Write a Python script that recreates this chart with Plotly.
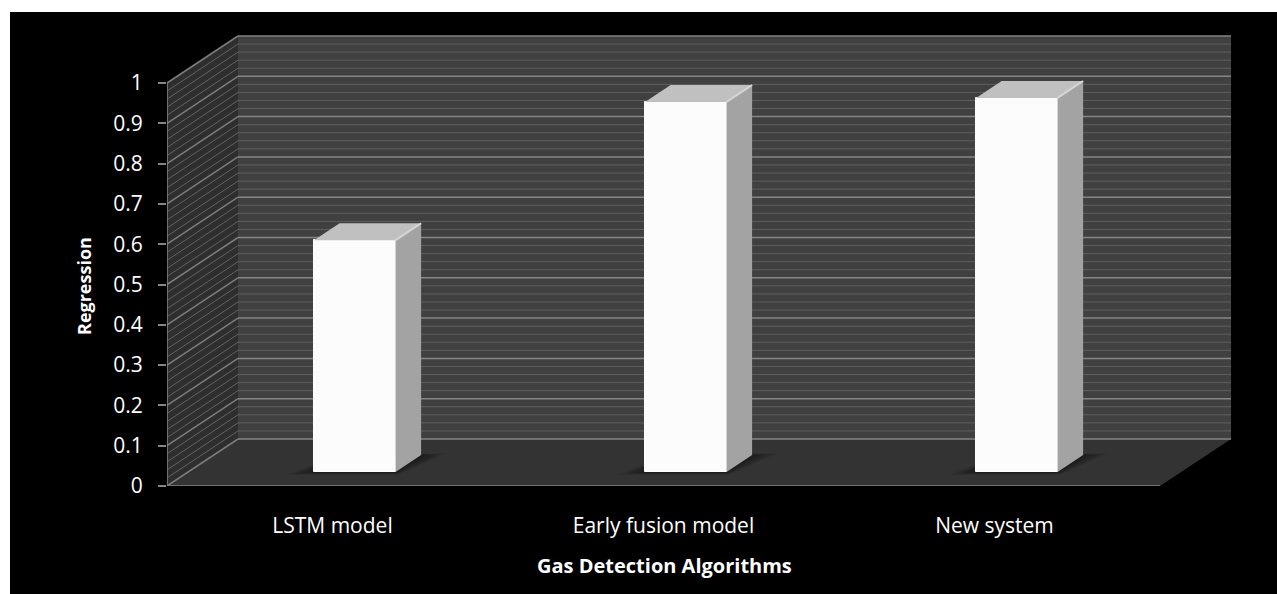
import plotly.graph_objects as go

# Chart data
categories = ["LSTM model", "Early fusion model", "New system"]
regression = [0.575, 0.918, 0.928]
y_ticks = [0, 0.1, 0.2, 0.3, 0.4, 0.5, 0.6, 0.7, 0.8, 0.9, 1]
y_tick_text = ["0", "0.1", "0.2", "0.3", "0.4", "0.5", "0.6", "0.7", "0.8", "0.9", "1"]
x_title = "Gas Detection Algorithms"
y_title = "Regression"

WIDTH, HEIGHT = 1277, 594

# Pixel frame of the plot area and the size of one data unit
LEFT, RIGHT, TOP, BOTTOM = 167, 1232, 35, 486
PX_PER_CAT = 331
PX_PER_VAL = 403
X_RANGE = [-0.5, -0.5 + (RIGHT - LEFT) / PX_PER_CAT]
Y_RANGE = [0, (BOTTOM - TOP) / PX_PER_VAL]

# Oblique projection: depth 0 is the front of the floor, depth 1 the back wall
DX = 71 / PX_PER_CAT
DY = 47 / PX_PER_VAL
X_MIN, X_MAX = -0.5, 2.5

BAR_WIDTH = 81.5 / PX_PER_CAT
BAR_SHIFT = 1 / PX_PER_CAT
BAR_D0, BAR_D1 = 0.30, 0.66


def project(x, v, d):
    return x + d * DX, v + d * DY


def poly(points, color, xaxis="x", yaxis="y"):
    xs, ys = zip(*[project(*p) for p in points + points[:1]])
    return go.Scatter(
        x=xs, y=ys, xaxis=xaxis, yaxis=yaxis, mode="lines", line=dict(width=0),
        fill="toself", fillcolor=color, hoverinfo="skip", showlegend=False,
    )


def segments(pairs, color, width, xaxis="x", yaxis="y"):
    xs, ys = [], []
    for a, b in pairs:
        ax, ay = project(*a)
        bx, by = project(*b)
        xs += [ax, bx, None]
        ys += [ay, by, None]
    return go.Scatter(
        x=xs, y=ys, xaxis=xaxis, yaxis=yaxis, mode="lines",
        line=dict(color=color, width=width), hoverinfo="skip", showlegend=False,
    )


traces = []

# Walls and floor
traces.append(poly([(X_MIN, 0, 0), (X_MIN, 1, 0), (X_MIN, 1, 1), (X_MIN, 0, 1)], "#2e2e2e"))
traces.append(poly([(X_MIN, 0, 1), (X_MIN, 1, 1), (X_MAX, 1, 1), (X_MAX, 0, 1)], "#404040"))
traces.append(poly([(X_MIN, 0, 0), (X_MAX, 0, 0), (X_MAX, 0, 1), (X_MIN, 0, 1)], "#333333"))

# Gridlines on the back wall and side wall, minor every 0.02
levels = [i / 50 for i in range(51)]
minor = [v for i, v in enumerate(levels) if i % 5]
major = [v for i, v in enumerate(levels) if i % 5 == 0]
traces.append(segments([((X_MIN, v, 1), (X_MAX, v, 1)) for v in minor], "#5e5e5e", 1))
traces.append(segments([((X_MIN, v, 0), (X_MIN, v, 1)) for v in minor], "#626262", 1))
traces.append(segments([((X_MIN, v, 1), (X_MAX, v, 1)) for v in major], "#858585", 1.5))
traces.append(segments([((X_MIN, v, 0), (X_MIN, v, 1)) for v in major], "#7d7d7d", 1.5))

# Axis edges
traces.append(segments([((X_MIN, 0, 0), (X_MAX, 0, 0)), ((X_MIN, 0, 0), (X_MIN, 1, 0))], "#868686", 1.5))

# Soft contact shadows on the floor, built up from nested translucent layers
centers = [i + BAR_SHIFT for i in range(len(categories))]
for x in centers:
    xl, xr = x - BAR_WIDTH / 2, x + BAR_WIDTH / 2
    for spread in (0.07, 0.06, 0.05, 0.04, 0.03, 0.02, 0.01):
        t = spread / 0.07
        traces.append(poly(
            [(xl - spread, 0, BAR_D0 - 0.06 * t), (xr + spread * 0.3, 0, BAR_D0 - 0.06 * t),
             (xr + spread, 0, BAR_D1 + 0.03 * t), (xl, 0, BAR_D1 + 0.03 * t)],
            "rgba(0,0,0,0.065)",
        ))

# Bars sit on an overlay pair of axes so they stack above the walls
base = BAR_D0 * DY
bar_x = [x + BAR_D0 * DX for x in centers]
traces.append(go.Bar(
    x=bar_x, y=regression, base=base, width=BAR_WIDTH, xaxis="x2", yaxis="y2",
    marker=dict(color="#fcfcfc", line=dict(color="#ffffff", width=1)),
    showlegend=False, hovertemplate="%{y}<extra></extra>",
))

for x, v in zip(centers, regression):
    xl, xr = x - BAR_WIDTH / 2, x + BAR_WIDTH / 2
    traces.append(poly([(xr, 0, BAR_D0), (xr, v, BAR_D0), (xr, v, BAR_D1), (xr, 0, BAR_D1)],
                       "#a3a3a3", "x2", "y2"))
    traces.append(poly([(xl, v, BAR_D0), (xr, v, BAR_D0), (xr, v, BAR_D1), (xl, v, BAR_D1)],
                       "#c0c0c0", "x2", "y2"))
    traces.append(segments([((xr, v, BAR_D0), (xr, v, BAR_D1))], "#d6d6d6", 2, "x2", "y2"))

TEXT = dict(family="Open Sans, Noto Sans, sans-serif", color="#ffffff")

fig = go.Figure(traces)
fig.update_layout(
    width=WIDTH, height=HEIGHT,
    margin=dict(l=0, r=0, t=0, b=0),
    paper_bgcolor="#ffffff", plot_bgcolor="rgba(0,0,0,0)",
    showlegend=False, bargap=0,
    shapes=[dict(type="rect", xref="paper", yref="paper", layer="below",
                 x0=10 / WIDTH, x1=1, y0=0, y1=(HEIGHT - 12) / HEIGHT,
                 fillcolor="#000000", line=dict(width=0))],
    annotations=[
        dict(text=f"<b>{x_title}</b>", xref="paper", yref="paper", showarrow=False,
             xanchor="center", yanchor="middle",
             x=664 / WIDTH, y=(HEIGHT - 565) / HEIGHT, font=dict(size=20, **TEXT)),
        dict(text=f"<b>{y_title}</b>", xref="paper", yref="paper", showarrow=False, textangle=-90,
             xanchor="center", yanchor="middle",
             x=84 / WIDTH, y=(HEIGHT - 286) / HEIGHT, font=dict(size=18, **TEXT)),
    ],
    xaxis=dict(
        domain=[LEFT / WIDTH, RIGHT / WIDTH], range=X_RANGE, anchor="y",
        tickvals=list(range(len(categories))), ticktext=categories,
        ticks="outside", ticklen=21, tickcolor="rgba(0,0,0,0)",
        tickfont=dict(size=21, **TEXT),
        showgrid=False, zeroline=False, showline=False, automargin=False,
    ),
    yaxis=dict(
        domain=[(HEIGHT - BOTTOM) / HEIGHT, (HEIGHT - TOP) / HEIGHT], range=Y_RANGE, anchor="x",
        tickvals=y_ticks, ticktext=y_tick_text,
        ticks="outside", ticklen=8, tickwidth=1.5, tickcolor="#868686",
        ticklabelstandoff=11,
        tickfont=dict(size=21, **TEXT),
        showgrid=False, zeroline=False, showline=False, automargin=False,
    ),
    xaxis2=dict(overlaying="x", range=X_RANGE, visible=False, anchor="y2",
                domain=[LEFT / WIDTH, RIGHT / WIDTH]),
    yaxis2=dict(overlaying="y", range=Y_RANGE, visible=False, anchor="x2",
                domain=[(HEIGHT - BOTTOM) / HEIGHT, (HEIGHT - TOP) / HEIGHT]),
)

fig.write_html("out.html", config=dict(displayModeBar=False))
